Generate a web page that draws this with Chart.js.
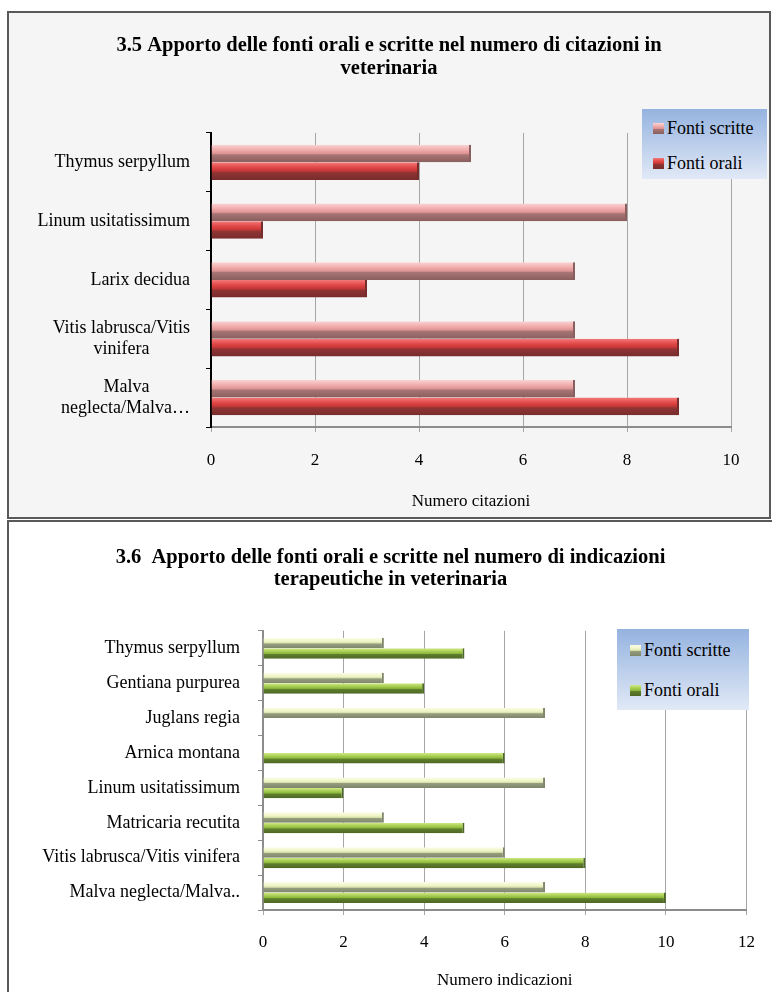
<!DOCTYPE html>
<html>
<head>
<meta charset="utf-8">
<script src="https://cdn.jsdelivr.net/npm/chart.js@4.4.0/dist/chart.umd.min.js"></script>
<style>
  body { margin: 0; width: 772px; height: 992px; overflow: hidden; background: #fff; position: relative; font-family: "Liberation Serif", serif; }
  .box { position: absolute; box-sizing: border-box; border: 2px solid #595959; }
  #box1 { left: 7px; top: 11px; width: 764px; height: 508px; background: #f5f5f5; }
  #box2 { left: 7px; top: 520px; width: 800px; height: 500px; background: #fff; }
  canvas { position: absolute; left: 0; top: 0; }
  .legenda { position: absolute; background: linear-gradient(#95b3e0, #e1e9f6); font-size: 18px; color: #000; }
  .voce { position: absolute; white-space: nowrap; line-height: 20px; }
  .voce i { display: inline-block; width: 11px; height: 11px; margin-right: 3px; vertical-align: 0px; }
</style>
</head>
<body>
<div class="box" id="box1"><canvas id="grafico1" width="760" height="504"></canvas></div>
<div class="box" id="box2"><canvas id="grafico2" width="763" height="470"></canvas></div>

<div class="legenda" id="legenda1" style="left:642px; top:109px; width:125px; height:70px;"></div>
<div class="legenda" id="legenda2" style="left:617px; top:629px; width:132px; height:81px;"></div>

<script>
// ------------------------------------------------------------------------
// Dati del grafico 3.5 (citazioni)
// (gli spazi finali centrano la riga corta sotto/sopra quella lunga)
const specie1 = [
  "Thymus serpyllum",
  "Linum usitatissimum",
  "Larix decidua",
  ["Vitis labrusca/Vitis", "vinifera         "],
  ["Malva         ", "neglecta/Malva…"],
];
const scritte1 = [5, 8, 7, 7, 7];
const orali1 = [4, 1, 3, 9, 9];
const titolo1 = ["3.5 Apporto delle fonti orali e scritte nel numero di citazioni in", "veterinaria"];
const asse1 = "Numero citazioni";

// Dati del grafico 3.6 (indicazioni terapeutiche)
const specie2 = [
  "Thymus serpyllum",
  "Gentiana purpurea",
  "Juglans regia",
  "Arnica montana",
  "Linum usitatissimum",
  "Matricaria recutita",
  "Vitis labrusca/Vitis vinifera",
  "Malva neglecta/Malva..",
];
const scritte2 = [3, 3, 7, 0, 7, 3, 6, 7];
const orali2 = [5, 4, 0, 6, 2, 5, 8, 10];
const titolo2 = ["3.6  Apporto delle fonti orali e scritte nel numero di indicazioni", "terapeutiche in veterinaria"];
const asse2 = "Numero indicazioni";

const nomiSerie = ["Fonti scritte", "Fonti orali"];

// sfumature "3D" delle barre (dall'alto verso il basso)
const rosaChiaro = [[0, "#fad4d4"], [0.3, "#f1abab"], [0.5, "#dc9494"], [0.58, "#a77474"], [1, "#8a5e5e"]];
const rossoScuro = [[0, "#f47a7a"], [0.3, "#e04646"], [0.5, "#c43636"], [0.58, "#903434"], [1, "#772c2c"]];
const verdeChiaro = [[0, "#fdfde6"], [0.35, "#eef4c6"], [0.5, "#d6dea8"], [0.58, "#959d7e"], [1, "#7e856a"]];
const verdeScuro = [[0, "#d0ea88"], [0.3, "#a8cd52"], [0.5, "#8ab83a"], [0.58, "#607e2c"], [1, "#4d6724"]];

const FONT = "Liberation Serif";

// plugin che applica la sfumatura verticale a ogni barra
const sfumatura = {
  id: "sfumatura",
  beforeDatasetsDraw(chart) {
    const ctx = chart.ctx;
    chart.data.datasets.forEach((ds, i) => {
      chart.getDatasetMeta(i).data.forEach((bar) => {
        const h = bar.height;
        if (!h || !isFinite(bar.y)) return;
        const g = ctx.createLinearGradient(0, bar.y - h / 2, 0, bar.y + h / 2);
        ds.sfumatura.forEach((s) => g.addColorStop(s[0], s[1]));
        bar.options = Object.assign({}, bar.options, { backgroundColor: g });
      });
    });
  },
};

function creaGrafico(id, cfg) {
  const el = document.getElementById(id);
  return new Chart(el, {
    type: "bar",
    plugins: [sfumatura],
    data: {
      labels: cfg.labels,
      datasets: [
        {
          label: nomiSerie[0],
          data: cfg.scritte,
          sfumatura: cfg.coloriScritte,
          backgroundColor: cfg.coloriScritte[2][1],
          borderColor: cfg.coloriScritte[4][1],
          borderWidth: { top: 0, bottom: 0, left: 0, right: 2 },
          borderSkipped: false,
        },
        {
          label: nomiSerie[1],
          data: cfg.orali,
          sfumatura: cfg.coloriOrali,
          backgroundColor: cfg.coloriOrali[2][1],
          borderColor: cfg.coloriOrali[4][1],
          borderWidth: { top: 0, bottom: 0, left: 0, right: 2 },
          borderSkipped: false,
        },
      ],
    },
    options: {
      indexAxis: "y",
      responsive: false,
      animation: false,
      devicePixelRatio: 1,
      categoryPercentage: 0.6,
      barPercentage: 1,
      layout: { padding: 0 },
      plugins: {
        legend: { display: false },
        tooltip: { enabled: false },
        title: {
          display: true,
          text: cfg.titolo,
          color: "#000",
          font: { family: FONT, size: 20.5, weight: "bold", lineHeight: cfg.titoloRiga },
          padding: { top: cfg.titoloSopra, bottom: cfg.titoloSotto },
        },
      },
      scales: {
        x: {
          type: "linear",
          min: 0,
          max: cfg.max,
          ticks: { stepSize: 2, color: "#000", font: { family: FONT, size: 17 }, padding: cfg.tickPad },
          grid: { color: "#a6a6a6", lineWidth: 1, tickLength: 5 },
          border: { color: "#8c8c8c", width: 2 },
          title: {
            display: true,
            text: cfg.asse,
            color: "#000",
            font: { family: FONT, size: 17 },
            padding: { top: 0, bottom: cfg.asseSotto },
          },
          afterFit(s) { s.height = cfg.altezzaX; },
        },
        y: {
          ticks: { color: "#000", font: { family: FONT, size: 18, lineHeight: 1.2 }, padding: cfg.labelPad },
          grid: { drawOnChartArea: false, tickLength: 5, color: cfg.coloreY },
          border: { color: cfg.coloreY, width: 2 },
          afterFit(s) { s.width = cfg.larghezzaY; },
        },
        // spazio vuoto a destra dell'area del grafico
        destra: {
          type: "linear",
          position: "right",
          ticks: { display: false },
          grid: { display: false },
          border: { display: false },
          afterFit(s) { s.width = cfg.destra; },
        },
      },
    },
  });
}

function creaLegenda(id, c1, c2, marca, righe) {
  const box = document.getElementById(id);
  [c1, c2].forEach((col, i) => {
    const v = document.createElement("div");
    v.className = "voce";
    v.style.left = marca + "px";
    v.style.top = righe[i] - 10 + "px";
    const grad = "linear-gradient(" + col.map((s) => s[1] + " " + s[0] * 100 + "%").join(",") + ")";
    v.innerHTML = '<i style="background:' + grad + '"></i>' + nomiSerie[i];
    box.appendChild(v);
  });
}

creaGrafico("grafico1", {
  labels: specie1, scritte: scritte1, orali: orali1, max: 10,
  coloriScritte: rosaChiaro, coloriOrali: rossoScuro,
  titolo: titolo1, titoloRiga: 1.12, titoloSopra: 21, titoloSotto: 53,
  asse: asse1, asseSotto: 5, altezzaX: 90, tickPad: 18,
  larghezzaY: 202, labelPad: 16, coloreY: "#000", destra: 38,
});

creaGrafico("grafico2", {
  labels: specie2, scritte: scritte2, orali: orali2, max: 12,
  coloriScritte: verdeChiaro, coloriOrali: verdeScuro,
  titolo: titolo2, titoloRiga: 1.07, titoloSopra: 25, titoloSotto: 40,
  asse: asse2, asseSotto: 1, altezzaX: 82, tickPad: 17,
  larghezzaY: 254, labelPad: 18, coloreY: "#8c8c8c", destra: 21,
});

creaLegenda("legenda1", rosaChiaro, rossoScuro, 11, [19, 54]);
creaLegenda("legenda2", verdeChiaro, verdeScuro, 13, [21, 61]);
</script>
</body>
</html>
